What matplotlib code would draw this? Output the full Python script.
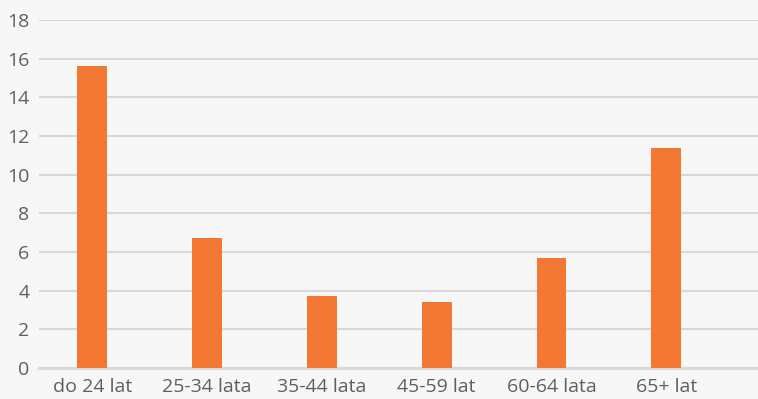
import matplotlib.pyplot as plt

groups = ['do 24 lat', '25-34 lata', '35-44 lata', '45-59 lat', '60-64 lata', '65+ lat']
values = [15.6, 6.7, 3.7, 3.4, 5.7, 11.4]
yticks = [0, 2, 4, 6, 8, 10, 12, 14, 16, 18]

plt.rcParams['font.family'] = ['Open Sans', 'DejaVu Sans']

fig = plt.figure(figsize=(7.58, 3.99), dpi=100, facecolor='#f7f7f7')
ax = fig.add_axes([39 / 758, 1 - 368 / 399, 1 - 39 / 758, 348 / 399])
ax.set_facecolor('#f7f7f7')

ax.bar(range(len(groups)), values, width=0.26, color='#f37834', zorder=3)

ax.set_ylim(0, 18)
ax.set_xlim(-0.465, 5.80)
ax.set_yticks(yticks)
ax.set_xticks(range(len(groups)))
ax.set_xticklabels(groups)
ax.grid(axis='y', color='#d9d9d9', linewidth=1.5, zorder=0)
for s in ['top', 'right', 'left']:
    ax.spines[s].set_visible(False)
ax.spines['bottom'].set_color('#d9d9d9')
ax.spines['bottom'].set_linewidth(2.2)
ax.tick_params(axis='both', length=0, labelsize=14, colors='#5f5f5f')
ax.tick_params(axis='y', pad=7)
ax.tick_params(axis='x', pad=7)

fig.savefig('out.png', dpi=100, facecolor='#f7f7f7')
